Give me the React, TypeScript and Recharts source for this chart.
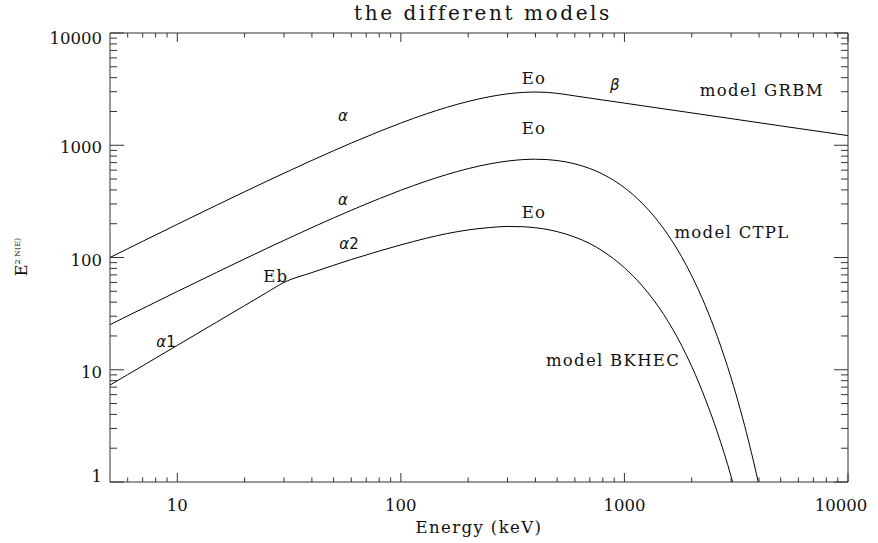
import { Line, LineChart, ReferenceDot, XAxis, YAxis } from 'recharts';

// GRBM (Band) model
const grbmEnergy = [5, 6, 7, 8, 10, 12, 15, 20, 25, 30, 40, 50, 60, 80, 100, 130, 160, 200, 250, 300, 350, 400, 450, 500, 600, 700, 800, 1000, 1200, 1500, 2000, 3000, 4000, 5000, 6000, 8000, 10000];
const grbmFlux = [100, 119.7, 139.3, 158.8, 197.5, 235.8, 292.6, 385.2, 475.6, 563.6, 732.9, 893.5, 1046, 1326, 1577, 1902, 2172, 2456, 2710, 2870, 2955, 2980, 2958, 2901, 2752, 2631, 2530, 2373, 2250, 2110, 1942, 1727, 1588, 1488, 1412, 1300, 1218];

// CTPL (cut-off power law) model
const ctplEnergy = [5, 6, 7, 8, 10, 12, 15, 20, 25, 30, 40, 50, 60, 80, 100, 130, 160, 200, 250, 300, 350, 400, 450, 500, 600, 700, 800, 1000, 1200, 1500, 1800, 2000, 2300, 2600, 3000, 3300, 3600, 4000, 4200];
const ctplFlux = [25.2, 30.2, 35.1, 40.0, 49.8, 59.4, 73.7, 97.1, 119.9, 142.0, 184.7, 225.2, 263.5, 334.2, 397.4, 479.3, 547.3, 619.0, 682.8, 723.1, 744.5, 750.9, 745.5, 731.0, 682.8, 620.4, 552.2, 418.6, 304.7, 179.9, 102.0, 68.7, 37.3, 19.9, 8.46, 4.4, 2.27, 0.93, 0.59];

// BKHEC (broken power law + high energy cut-off) model
const bkhecEnergy = [5, 6, 7, 8, 10, 12, 15, 20, 25, 30, 40, 50, 60, 80, 100, 130, 160, 200, 250, 300, 350, 400, 450, 500, 600, 700, 800, 1000, 1200, 1500, 1800, 2000, 2300, 2600, 3000, 3300];
const bkhecFlux = [7.3, 9.05, 10.84, 12.69, 16.49, 20.44, 26.57, 37.27, 48.45, 60.0, 73.4, 85.2, 95.9, 114.2, 129.5, 148.5, 163, 176, 185, 189, 188, 184, 178, 170, 152, 133, 114, 81, 56, 31, 16.5, 10.7, 5.5, 2.8, 1.12, 0.55];

const xTicks = [6, 7, 8, 9, 10, 20, 30, 40, 50, 60, 70, 80, 90, 100, 200, 300, 400, 500, 600, 700, 800, 900, 1000, 2000, 3000, 4000, 5000, 6000, 7000, 8000, 9000, 10000];
const yTicks = [1, 2, 3, 4, 5, 6, 7, 8, 9, 10, 20, 30, 40, 50, 60, 70, 80, 90, 100, 200, 300, 400, 500, 600, 700, 800, 900, 1000, 2000, 3000, 4000, 5000, 6000, 7000, 8000, 9000, 10000];
const xLabels = [10, 100, 1000, 10000];
const yLabels = [1, 10, 100, 1000, 10000];

const notes = [
  { text: 'Eo', e: 394, f: 3973 },
  { text: 'β', e: 906, f: 3441, greek: true },
  { text: 'model GRBM', e: 4120, f: 3105 },
  { text: 'α', e: 55.1, f: 1823, greek: true },
  { text: 'Eo', e: 394, f: 1425 },
  { text: 'α', e: 55.1, f: 325, greek: true },
  { text: 'Eo', e: 394, f: 254 },
  { text: 'α', sub: '2', e: 58.6, f: 132, greek: true },
  { text: 'model CTPL', e: 3027, f: 169 },
  { text: 'Eb', e: 27.6, f: 68.4 },
  { text: 'α', sub: '1', e: 8.9, f: 17.7, greek: true },
  { text: 'model BKHEC', e: 889, f: 12.2 },
];

const zip = (es: number[], fs: number[]) => es.map((e, i) => ({ energy: e, flux: fs[i] }));
const grbmData = zip(grbmEnergy, grbmFlux);
const ctplData = zip(ctplEnergy, ctplFlux);
const bkhecData = zip(bkhecEnergy, bkhecFlux);

const SERIF = '"DejaVu Serif", serif';
const SANS = '"DejaVu Sans", sans-serif';
const FRAME = '#333';
const INK = '#111';

const BottomTick = ({ x, y, payload }: any) => {
  const v = payload.value;
  const major = xLabels.includes(v);
  const shift = v === 10000 ? -7 : 0;
  return (
    <g>
      <line x1={x} x2={x} y1={y} y2={y - (major ? 9 : 4.5)} stroke={FRAME} />
      {major && (
        <text x={x + shift} y={y + 29} textAnchor="middle" fontFamily={SERIF} fontSize={16.5} fill={INK}>
          {v}
        </text>
      )}
    </g>
  );
};

const TopTick = ({ x, y, payload }: any) => {
  const major = xLabels.includes(payload.value);
  return <line x1={x} x2={x} y1={y} y2={y + (major ? 9 : 4.5)} stroke={FRAME} />;
};

const LeftTick = ({ x, y, payload }: any) => {
  const v = payload.value;
  const major = yLabels.includes(v);
  const dy = v === 10000 ? 11 : v === 1 ? 0 : 8;
  return (
    <g>
      <line x1={x} x2={x + (major ? 14 : 7)} y1={y} y2={y} stroke={FRAME} />
      {major && (
        <text x={x - 8} y={y + dy} textAnchor="end" fontFamily={SERIF} fontSize={16.5} fill={INK}>
          {v}
        </text>
      )}
    </g>
  );
};

const RightTick = ({ x, y, payload }: any) => {
  const major = yLabels.includes(payload.value);
  return <line x1={x} x2={x - (major ? 14 : 7)} y1={y} y2={y} stroke={FRAME} />;
};

const NoteLabel = (n: any) => (props: any) => {
  const vb = props.viewBox;
  const cx = vb.x + vb.width / 2;
  const cy = vb.y + vb.height / 2;
  if (n.greek) {
    return (
      <text x={cx} y={cy + 5} textAnchor="middle" fontSize={15} fill={INK}>
        <tspan fontFamily={SANS} fontStyle="italic">{n.text}</tspan>
        {n.sub && <tspan fontFamily={SANS}>{n.sub}</tspan>}
      </text>
    );
  }
  return (
    <text x={cx} y={cy + 6} textAnchor="middle" fontFamily={SERIF} fontSize={16.5} letterSpacing={1.3} fill={INK}>
      {n.text}
    </text>
  );
};

const TitleLabel = () => (
  <text x={483} y={20} textAnchor="middle" fontFamily={SERIF} fontSize={20} letterSpacing={2.6} fill={INK}>
    the different models
  </text>
);

const YTitle = () => (
  <text x={27} y={257} transform="rotate(-90, 27, 257)" textAnchor="middle" fontFamily={SERIF} fill={INK}>
    <tspan fontSize={16}>E</tspan>
    <tspan fontSize={8} dy={-7}>2 N(E)</tspan>
  </text>
);

const App = () => {
  return (
    <div style={{ position: 'absolute', top: 0, left: 0, width: 878, height: 543 }}>
      <LineChart width={878} height={543} margin={{ top: 32, right: 29, bottom: 0, left: 0 }}>
        <XAxis
          dataKey="energy"
          type="number"
          scale="log"
          domain={[5, 10000]}
          allowDataOverflow
          ticks={xTicks}
          interval={0}
          height={61}
          tickSize={0}
          tickMargin={0}
          tickLine={false}
          axisLine={{ stroke: FRAME }}
          tick={BottomTick}
          label={{ value: 'Energy (keV)', position: 'insideBottom', offset: 10, fontFamily: SERIF, fontSize: 16.5, letterSpacing: 1.4, fill: INK }}
        />
        <XAxis
          xAxisId="top"
          orientation="top"
          dataKey="energy"
          type="number"
          scale="log"
          domain={[5, 10000]}
          allowDataOverflow
          ticks={xTicks}
          interval={0}
          height={1}
          tickSize={0}
          tickMargin={0}
          tickLine={false}
          axisLine={{ stroke: FRAME }}
          tick={TopTick}
          label={{ content: TitleLabel }}
        />
        <YAxis
          type="number"
          scale="log"
          domain={[1, 10000]}
          allowDataOverflow
          ticks={yTicks}
          interval={0}
          width={110}
          tickSize={0}
          tickMargin={0}
          tickLine={false}
          axisLine={{ stroke: FRAME }}
          tick={LeftTick}
          label={{ content: YTitle }}
        />
        <YAxis
          yAxisId="right"
          orientation="right"
          type="number"
          scale="log"
          domain={[1, 10000]}
          allowDataOverflow
          ticks={yTicks}
          interval={0}
          width={1}
          tickSize={0}
          tickMargin={0}
          tickLine={false}
          axisLine={{ stroke: FRAME }}
          tick={RightTick}
        />
        <Line data={grbmData} dataKey="flux" type="monotone" stroke="#000" strokeWidth={1} dot={false} isAnimationActive={false} />
        <Line data={ctplData} dataKey="flux" type="monotone" stroke="#000" strokeWidth={1} dot={false} isAnimationActive={false} />
        <Line data={bkhecData} dataKey="flux" type="monotone" stroke="#000" strokeWidth={1} dot={false} isAnimationActive={false} />
        {/* invisible twin of GRBM so the top and right frame axes get a series */}
        <Line
          data={grbmData}
          dataKey="flux"
          xAxisId="top"
          yAxisId="right"
          stroke="none"
          dot={false}
          activeDot={false}
          legendType="none"
          isAnimationActive={false}
        />
        {notes.map((n, i) => (
          <ReferenceDot key={i} x={n.e} y={n.f} r={0} fill="none" stroke="none" label={{ content: NoteLabel(n) }} />
        ))}
      </LineChart>
    </div>
  );
};

export default App;
